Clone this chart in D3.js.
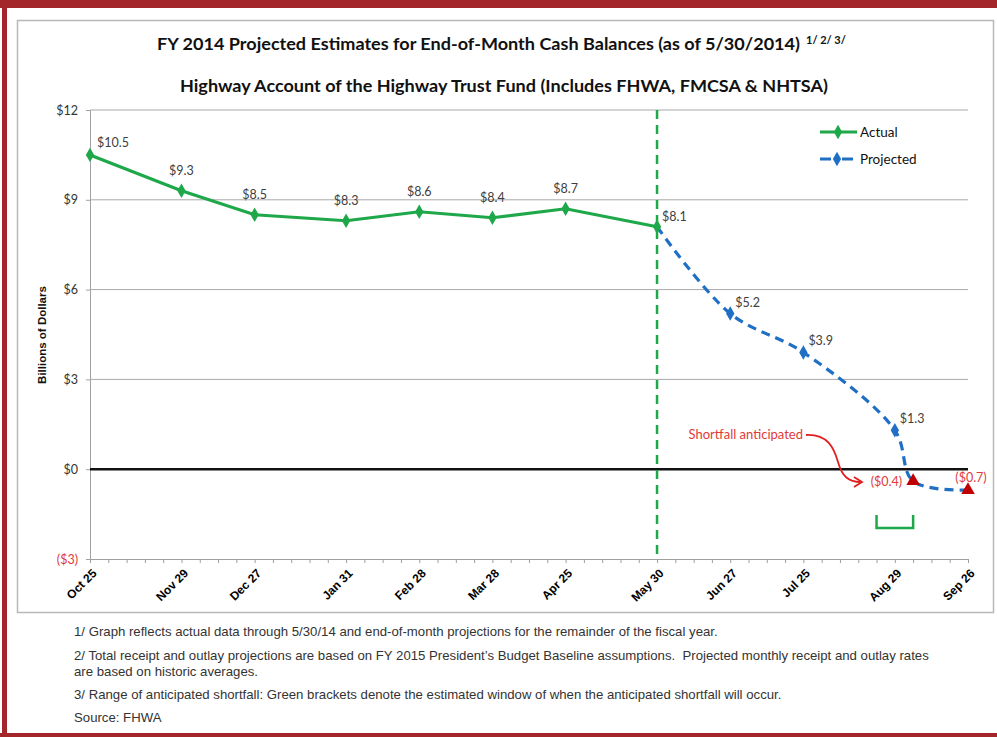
<!DOCTYPE html>
<html><head><meta charset="utf-8">
<script src="https://cdn.jsdelivr.net/npm/d3@7"></script>
<style>body{margin:0;background:#fff;} svg{display:block;}</style>
</head><body><svg id="c" width="997" height="737"></svg>
<script>
// ---------- data ----------
const actualDates = ["2013-10-25","2013-11-29","2013-12-27","2014-01-31","2014-02-28","2014-03-28","2014-04-25","2014-05-30"];
const actualValues = [10.5, 9.3, 8.5, 8.3, 8.6, 8.4, 8.7, 8.1];
const actualLabels = ["$10.5","$9.3","$8.5","$8.3","$8.6","$8.4","$8.7","$8.1"];
const projectedDates = ["2014-05-30","2014-06-27","2014-07-25","2014-08-29","2014-09-05","2014-09-26"];
const projectedValues = [8.1, 5.2, 3.9, 1.3, -0.4, -0.7];
const projectedLabels = ["", "$5.2", "$3.9", "$1.3", "($0.4)", "($0.7)"];
const shortfallDates = ["2014-09-05","2014-09-26"];
const shortfallWindow = ["2014-08-22","2014-09-05"];
const xTickDates = ["2013-10-25","2013-11-29","2013-12-27","2014-01-31","2014-02-28","2014-03-28","2014-04-25","2014-05-30","2014-06-27","2014-07-25","2014-08-29","2014-09-26"];
const xTickLabels = ["Oct 25","Nov 29","Dec 27","Jan 31","Feb 28","Mar 28","Apr 25","May 30","Jun 27","Jul 25","Aug 29","Sep 26"];
const yTicks = [-3, 0, 3, 6, 9, 12];
const yTickLabels = ["($3)","$0","$3","$6","$9","$12"];
const legendNames = ["Actual","Projected"];
const titleText = "FY 2014 Projected Estimates for End-of-Month Cash Balances (as of 5/30/2014)";
const titleSup = "1/ 2/ 3/";
const subtitleText = "Highway Account of the Highway Trust Fund (Includes FHWA, FMCSA & NHTSA)";
const yAxisTitle = "Billions of Dollars";
const annotationText = "Shortfall anticipated";
const footnotes = [
  "1/ Graph reflects actual data through 5/30/14 and end-of-month projections for the remainder of the fiscal year.",
  "2/ Total receipt and outlay projections are based on FY 2015 President\u2019s Budget Baseline assumptions.  Projected monthly receipt and outlay rates",
  "are based on historic averages.",
  "3/ Range of anticipated shortfall: Green brackets denote the estimated window of when the anticipated shortfall will occur.",
  "Source: FHWA"
];

// ---------- setup ----------
const parse = d3.utcParse("%Y-%m-%d");
const fmt = d3.utcFormat("%Y-%m-%d");
const svg = d3.select("#c");
const GREEN = "#1ea84a", BLUE = "#1f6fc4", RED = "#c00000", TXTRED = "#e03a3a";
const CAL = "Lato, 'Open Sans', sans-serif";
const ARI = "'Liberation Sans', Arial, sans-serif";

const x = d3.scaleUtc().domain([parse(xTickDates[0]), parse(xTickDates[xTickDates.length-1])]).range([90, 968]);
const y = d3.scaleLinear().domain([-3, 12]).range([559, 110]);

// outer frame
svg.append("rect").attr("x",0).attr("y",0).attr("width",997).attr("height",737).attr("fill","#fff");
svg.append("rect").attr("x",0).attr("y",0).attr("width",997).attr("height",8).attr("fill","#a3262b");
svg.append("rect").attr("x",2).attr("y",0).attr("width",5).attr("height",737).attr("fill","#a3262b");
svg.append("rect").attr("x",0).attr("y",733).attr("width",997).attr("height",4).attr("fill","#a3262b");
svg.append("rect").attr("x",17.5).attr("y",20.5).attr("width",976).attr("height",592).attr("fill","none").attr("stroke","#b8b8b8").attr("stroke-width",1.5);

// titles
const t = svg.append("text").attr("x",157).attr("y",50).attr("font-family",CAL).attr("font-weight","bold").attr("font-size",17).attr("fill","#111");
t.append("tspan").attr("textLength",643).attr("lengthAdjust","spacingAndGlyphs").text(titleText);
t.append("tspan").attr("dx",6).attr("dy",-6).attr("font-size",11).text(titleSup);
svg.append("text").attr("x",180).attr("y",92).attr("font-family",CAL).attr("font-weight","bold").attr("font-size",17).attr("fill","#111")
  .attr("textLength",648).attr("lengthAdjust","spacingAndGlyphs").text(subtitleText);

// gridlines + y axis
const yAxis = d3.axisLeft(y).tickValues(yTicks).tickSize(4).tickFormat((d,i)=>yTickLabels[i]);
const gy = svg.append("g").attr("transform","translate(90,0)").call(yAxis);
gy.select(".domain").attr("stroke","#a0a0a0");
gy.selectAll(".tick line").attr("stroke","#a0a0a0");
gy.selectAll(".tick text").attr("font-family",CAL).attr("font-size",12.5).attr("fill",(d)=>d<0?TXTRED:"#333").attr("x",-12);
svg.append("g").selectAll("line").data(yTicks.filter(v=>v>-3 && v!==0)).join("line")
  .attr("x1",90).attr("x2",968).attr("y1",d=>y(d)).attr("y2",d=>y(d)).attr("stroke","#a8a8a8").attr("stroke-width",1);

// x axis
const weekly = d3.utcFriday.range(parse(xTickDates[0]), d3.utcDay.offset(parse(xTickDates[xTickDates.length-1]),1));
const labelMap = new Map(xTickDates.map((d,i)=>[+parse(d), xTickLabels[i]]));
const xAxis = d3.axisBottom(x).tickValues(weekly).tickSize(4).tickFormat(d=>labelMap.get(+d)||"");
const gx = svg.append("g").attr("transform",`translate(0,${y(-3)})`).call(xAxis);
gx.select(".domain").attr("stroke","#a0a0a0");
gx.selectAll(".tick line").attr("stroke","#a0a0a0");
gx.selectAll(".tick text").attr("font-family",ARI).attr("font-weight","bold").attr("font-size",12).attr("fill","#000")
  .attr("text-anchor","end").attr("y",0).attr("dy","0.35em").attr("transform","translate(4,12) rotate(-45)");

// zero line
svg.append("line").attr("x1",90).attr("x2",968).attr("y1",y(0)).attr("y2",y(0)).attr("stroke","#111").attr("stroke-width",2.5);

// y title
svg.append("text").attr("transform",`translate(46,${335}) rotate(-90)`).attr("text-anchor","middle")
  .attr("font-family",ARI).attr("font-weight","bold").attr("font-size",11.5).attr("fill","#111").text(yAxisTitle);

// vertical dashed line at last actual
const split = parse(actualDates[actualDates.length-1]);
svg.append("line").attr("x1",x(split)).attr("x2",x(split)).attr("y1",y(12)).attr("y2",y(-3))
  .attr("stroke",GREEN).attr("stroke-width",2.5).attr("stroke-dasharray","9,6");

// series
const actual = actualDates.map((d,i)=>({date:parse(d), v:actualValues[i], label:actualLabels[i]}));
const projected = projectedDates.map((d,i)=>({date:parse(d), v:projectedValues[i], label:projectedLabels[i]}));

svg.append("path").datum(projected).attr("fill","none").attr("stroke",BLUE).attr("stroke-width",3.2).attr("stroke-dasharray","9,6")
  .attr("d", d3.line().x(d=>x(d.date)).y(d=>y(d.v)).curve(d3.curveCatmullRom.alpha(0.5)));
svg.append("path").datum(actual).attr("fill","none").attr("stroke",GREEN).attr("stroke-width",3.2)
  .attr("d", d3.line().x(d=>x(d.date)).y(d=>y(d.v)));

const diamond = d3.symbol().type(d3.symbolDiamond).size(60);
svg.append("g").selectAll("path").data(projected.filter(d=>!shortfallDates.includes(fmt(d.date))).slice(1)).join("path")
  .attr("transform",d=>`translate(${x(d.date)},${y(d.v)})`).attr("d",diamond).attr("fill",BLUE);
svg.append("g").selectAll("path").data(actual).join("path")
  .attr("transform",d=>`translate(${x(d.date)},${y(d.v)})`).attr("d",diamond).attr("fill",GREEN);
const tri = d3.symbol().type(d3.symbolTriangle).size(80);
svg.append("g").selectAll("path").data(projected.filter(d=>shortfallDates.includes(fmt(d.date)))).join("path")
  .attr("transform",d=>`translate(${x(d.date)},${y(d.v)})`).attr("d",tri).attr("fill",RED);

// data labels
const lab = svg.append("g").attr("font-family",CAL).attr("font-size",12.5).attr("fill","#404040");
actual.forEach((d,i)=>{
  let dx=0, dy=-16, anchor="middle";
  if(i===0){dx=7; dy=-8; anchor="start";}
  if(i===actual.length-1){dx=5; dy=-6; anchor="start";}
  lab.append("text").attr("x",x(d.date)+dx).attr("y",y(d.v)+dy).attr("text-anchor",anchor).text(d.label);
});
projected.forEach((d,i)=>{
  if(!d.label) return;
  let dx=5, dy=-7, anchor="start", fill="#404040";
  if(d.v<0){ fill=TXTRED; }
  if(i===4){dx=-11; dy=5; anchor="end";}
  if(i===5){dx=3; dy=-8; anchor="middle";}
  lab.append("text").attr("x",x(d.date)+dx).attr("y",y(d.v)+dy).attr("text-anchor",anchor).attr("fill",fill).text(d.label);
});

// annotation
svg.append("text").attr("x",803).attr("y",439).attr("text-anchor","end").attr("font-family",CAL).attr("font-size",13).attr("fill",TXTRED).text(annotationText);
svg.append("path").attr("d","M806,435 C828,434 834,448 838,462 C842,476 848,482 861,482").attr("fill","none").attr("stroke","#e02020").attr("stroke-width",1.8);
svg.append("path").attr("d","M854,477 L862,482 L854,487").attr("fill","none").attr("stroke","#e02020").attr("stroke-width",1.8);

// shortfall bracket
const bx0 = x(parse(shortfallWindow[0])), bx1 = x(parse(shortfallWindow[1]));
svg.append("path").attr("d",`M${bx0},515 V528 H${bx1} V515`).attr("fill","none").attr("stroke",GREEN).attr("stroke-width",2.5);

// legend
const lg = svg.append("g").attr("font-family",CAL).attr("font-size",13.5).attr("fill","#111");
lg.append("line").attr("x1",820).attr("x2",857).attr("y1",132).attr("y2",132).attr("stroke",GREEN).attr("stroke-width",3);
lg.append("path").attr("transform","translate(838,132)").attr("d",diamond).attr("fill",GREEN);
lg.append("text").attr("x",860).attr("y",137).text(legendNames[0]);
lg.append("line").attr("x1",820).attr("x2",853).attr("y1",159).attr("y2",159).attr("stroke",BLUE).attr("stroke-width",3).attr("stroke-dasharray","11,11");
lg.append("path").attr("transform","translate(837,159)").attr("d",diamond).attr("fill",BLUE);
lg.append("text").attr("x",860).attr("y",164).text(legendNames[1]);

// footnotes
const fy = [636, 660, 676, 699, 722];
svg.append("g").selectAll("text").data(footnotes).join("text")
  .attr("x",74).attr("y",(d,i)=>fy[i]).attr("font-family",ARI).attr("font-size",13.2).attr("fill","#333")
  .style("white-space","pre").text(d=>d);
</script></body></html>
